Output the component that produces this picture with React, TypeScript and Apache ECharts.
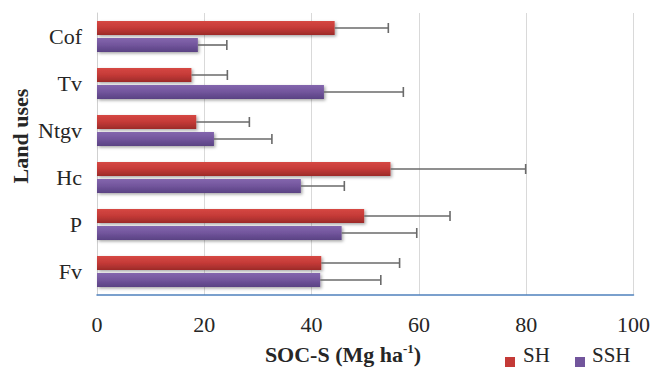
import React, { useEffect, useRef } from "react";
import * as echarts from "echarts";

// categories listed top-to-bottom
const categories = ["Cof", "Tv", "Ntgv", "Hc", "P", "Fv"];
const shMean = [44.3, 17.6, 18.5, 54.7, 49.8, 41.8];
const shUpper = [54.3, 24.3, 28.4, 79.9, 65.8, 56.4];
const ssshMean = [18.8, 42.3, 21.8, 38.0, 45.6, 41.6];
const ssshUpper = [24.2, 57.1, 32.6, 46.1, 59.6, 52.9];
const seriesNames = ["SH", "SSH"];
const xTicks = { min: 0, max: 100, interval: 20 };

const FONT = "Liberation Serif";
const BAR_W = 14;
const GAP = 3;

function errorSeries(name: string, means: number[], uppers: number[], offset: number) {
  return {
    type: "custom",
    name: name + " err",
    z: 5,
    silent: true,
    encode: { x: [0, 2], y: 1 },
    data: means.map((m, i) => [m, i, uppers[i]]),
    renderItem: (_params: any, api: any) => {
      const cat = api.value(1);
      const p0 = api.coord([api.value(0), cat]);
      const p1 = api.coord([api.value(2), cat]);
      const y = p0[1] + offset;
      const style = { stroke: "#6a6a6a", lineWidth: 1.6 };
      return {
        type: "group",
        children: [
          { type: "line", shape: { x1: p0[0], y1: y, x2: p1[0], y2: y }, style },
          { type: "line", shape: { x1: p1[0], y1: y - 5, x2: p1[0], y2: y + 5 }, style },
        ],
      };
    },
  };
}

export default function App() {
  const ref = useRef<HTMLDivElement>(null);
  useEffect(() => {
    if (!ref.current) return;
    const chart = echarts.init(ref.current, null, { renderer: "svg" });
    const shadow = {
      shadowBlur: 3,
      shadowOffsetX: 1.5,
      shadowOffsetY: 1.5,
      shadowColor: "rgba(0,0,0,0.35)",
    };
    chart.setOption({
      animation: false,
      backgroundColor: "#ffffff",
      textStyle: { fontFamily: FONT },
      grid: { left: 97, right: 17, top: 13, bottom: 72, containLabel: false },
      xAxis: {
        type: "value",
        min: xTicks.min,
        max: xTicks.max,
        interval: xTicks.interval,
        axisLine: { show: true, lineStyle: { color: "#4f81bd", width: 1.5 } },
        axisTick: { show: false },
        axisLabel: { fontFamily: FONT, fontSize: 22, color: "#262626", margin: 18 },
        splitLine: { show: true, lineStyle: { color: "#d9d9d9", width: 1 } },
      },
      yAxis: {
        type: "category",
        inverse: true,
        data: categories,
        axisLine: { show: true, lineStyle: { color: "#d0d0d0", width: 1 } },
        axisTick: { show: false },
        axisLabel: { fontFamily: FONT, fontSize: 22, color: "#262626", margin: 15 },
        splitLine: { show: false },
      },
      series: [
        {
          type: "bar",
          name: seriesNames[0],
          data: shMean,
          barWidth: BAR_W,
          barGap: (GAP / BAR_W) * 100 + "%",
          itemStyle: {
            color: new echarts.graphic.LinearGradient(0, 0, 0, 1, [
              { offset: 0, color: "#d64843" },
              { offset: 0.5, color: "#c43a37" },
              { offset: 1, color: "#9c2a29" },
            ]),
            ...shadow,
          },
        },
        {
          type: "bar",
          name: seriesNames[1],
          data: ssshMean,
          barWidth: BAR_W,
          barGap: (GAP / BAR_W) * 100 + "%",
          itemStyle: {
            color: new echarts.graphic.LinearGradient(0, 0, 0, 1, [
              { offset: 0, color: "#8466ae" },
              { offset: 0.5, color: "#72559c" },
              { offset: 1, color: "#594283" },
            ]),
            ...shadow,
          },
        },
        errorSeries(seriesNames[0], shMean, shUpper, -(BAR_W + GAP) / 2),
        errorSeries(seriesNames[1], ssshMean, ssshUpper, (BAR_W + GAP) / 2),
      ],
      graphic: [
        {
          type: "text",
          x: 343,
          y: 354,
          style: {
            text: "{b|SOC-S (Mg ha}{s|-1}{b|)}",
            align: "center",
            verticalAlign: "middle",
            rich: {
              b: { fontFamily: FONT, fontSize: 22, fontWeight: "bold", fill: "#262626", lineHeight: 24 },
              s: { fontFamily: FONT, fontSize: 13, fontWeight: "bold", fill: "#262626", verticalAlign: "top", lineHeight: 24 },
            },
          },
        },
        {
          type: "text",
          x: 20,
          y: 136,
          rotation: Math.PI / 2,
          style: {
            text: "Land uses",
            align: "center",
            verticalAlign: "middle",
            fontFamily: FONT,
            fontSize: 22,
            fontWeight: "bold",
            fill: "#262626",
          },
        },
        { type: "rect", shape: { x: 505, y: 357, width: 10, height: 10 }, style: { fill: "#c43a37" } },
        {
          type: "text",
          x: 523,
          y: 355,
          style: { text: seriesNames[0], fontFamily: FONT, fontSize: 21, fill: "#262626", verticalAlign: "middle" },
        },
        { type: "rect", shape: { x: 575, y: 357, width: 10, height: 10 }, style: { fill: "#72559c" } },
        {
          type: "text",
          x: 592,
          y: 355,
          style: { text: seriesNames[1], fontFamily: FONT, fontSize: 21, fill: "#262626", verticalAlign: "middle" },
        },
      ],
    });
    return () => chart.dispose();
  }, []);
  return <div ref={ref} style={{ width: 653, height: 367, position: "absolute", left: 0, top: 0 }} />;
}
